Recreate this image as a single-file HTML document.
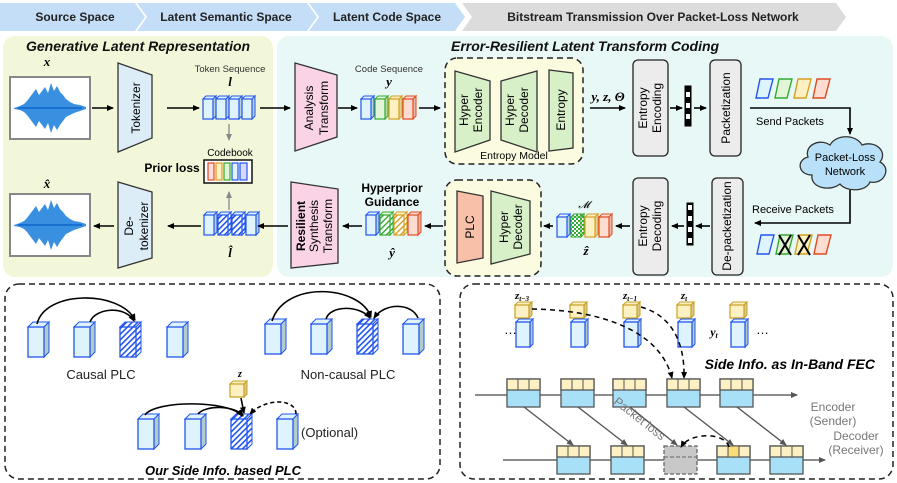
<!DOCTYPE html>
<html><head><meta charset="utf-8"><style>
html,body{margin:0;padding:0;background:#fff}
svg{display:block;font-family:"Liberation Sans",sans-serif}
</style></head><body>
<svg width="897" height="483" viewBox="0 0 897 483" xmlns="http://www.w3.org/2000/svg">
<defs>
<marker id="ar" markerWidth="8" markerHeight="8" refX="6" refY="3" orient="auto" markerUnits="userSpaceOnUse"><path d="M0,0 L7,3 L0,6 Z" fill="#000"/></marker>
<marker id="ag" markerWidth="8" markerHeight="8" refX="6" refY="3" orient="auto" markerUnits="userSpaceOnUse"><path d="M0,0 L7,3 L0,6 Z" fill="#555"/></marker>
<marker id="agr" markerWidth="8" markerHeight="8" refX="6" refY="3" orient="auto" markerUnits="userSpaceOnUse"><path d="M0,0 L7,3 L0,6 Z" fill="#888"/></marker>
<pattern id="hb" width="4" height="4" patternUnits="userSpaceOnUse" patternTransform="rotate(45)"><rect width="4" height="4" fill="#fff"/><rect width="1.6" height="4" fill="#2255ee"/></pattern>
<pattern id="hg" width="4" height="4" patternUnits="userSpaceOnUse" patternTransform="rotate(45)"><rect width="4" height="4" fill="#fff"/><rect width="1.4" height="4" fill="#3a3"/></pattern>
<pattern id="hy" width="4" height="4" patternUnits="userSpaceOnUse" patternTransform="rotate(45)"><rect width="4" height="4" fill="#fff"/><rect width="1.4" height="4" fill="#d4a020"/></pattern>
<pattern id="chk" width="4" height="4" patternUnits="userSpaceOnUse"><rect width="4" height="4" fill="#3a3"/><rect width="2" height="2" fill="#fff"/><rect x="2" y="2" width="2" height="2" fill="#fff"/></pattern>
<g id="tB"><path d="M0,3 L3,0 L13,0 L10,3Z" fill="#dff3fd" stroke="#2255ee" stroke-width="1"/><path d="M10,3 L13,0 L13,20 L10,23Z" fill="#b8d0d8" stroke="#2255ee" stroke-width="1"/><rect x="0" y="3" width="10" height="20" fill="#dff3fd" stroke="#2255ee" stroke-width="1.2"/></g>
<g id="tBh"><path d="M0,3 L3,0 L13,0 L10,3Z" fill="#dff3fd" stroke="#2255ee"/><path d="M10,3 L13,0 L13,20 L10,23Z" fill="url(#hb)" stroke="#2255ee"/><rect x="0" y="3" width="10" height="20" fill="url(#hb)" stroke="#2255ee" stroke-width="1.2"/></g>
<g id="tG"><path d="M0,3 L3,0 L13,0 L10,3Z" fill="#e2f5d6" stroke="#3a3"/><path d="M10,3 L13,0 L13,20 L10,23Z" fill="#b8d8a8" stroke="#3a3"/><rect x="0" y="3" width="10" height="20" fill="#e2f5d6" stroke="#3a3" stroke-width="1.2"/></g>
<g id="tGh"><path d="M0,3 L3,0 L13,0 L10,3Z" fill="#e2f5d6" stroke="#3a3"/><path d="M10,3 L13,0 L13,20 L10,23Z" fill="url(#hg)" stroke="#3a3"/><rect x="0" y="3" width="10" height="20" fill="url(#hg)" stroke="#3a3" stroke-width="1.2"/></g>
<g id="tY"><path d="M0,3 L3,0 L13,0 L10,3Z" fill="#fdf1c4" stroke="#d4a020"/><path d="M10,3 L13,0 L13,20 L10,23Z" fill="#e0d098" stroke="#d4a020"/><rect x="0" y="3" width="10" height="20" fill="#fdf1c4" stroke="#d4a020" stroke-width="1.2"/></g>
<g id="tYh"><path d="M0,3 L3,0 L13,0 L10,3Z" fill="#fdf1c4" stroke="#d4a020"/><path d="M10,3 L13,0 L13,20 L10,23Z" fill="url(#hy)" stroke="#d4a020"/><rect x="0" y="3" width="10" height="20" fill="url(#hy)" stroke="#d4a020" stroke-width="1.2"/></g>
<g id="tR"><path d="M0,3 L3,0 L13,0 L10,3Z" fill="#fddcd2" stroke="#e04a20"/><path d="M10,3 L13,0 L13,20 L10,23Z" fill="#e8b8a8" stroke="#e04a20"/><rect x="0" y="3" width="10" height="20" fill="#fddcd2" stroke="#e04a20" stroke-width="1.2"/></g>
<g id="LB"><path d="M0,5 L5,0 L21,0 L16,5Z" fill="#dff3fd" stroke="#2255ee"/><path d="M16,5 L21,0 L21,30 L16,35Z" fill="#b0cccc" stroke="#2255ee"/><rect x="0" y="5" width="16" height="30" fill="#dff3fd" stroke="#2255ee" stroke-width="1.3"/></g>
<g id="LBh"><path d="M0,5 L5,0 L21,0 L16,5Z" fill="url(#hb)" stroke="#2255ee"/><path d="M16,5 L21,0 L21,30 L16,35Z" fill="url(#hb)" stroke="#2255ee"/><rect x="0" y="5" width="16" height="30" fill="url(#hb)" stroke="#2255ee" stroke-width="1.3"/></g>
<g id="SY"><path d="M0,3 L3,0 L17,0 L14,3Z" fill="#fdf1c4" stroke="#c8a020"/><path d="M14,3 L17,0 L17,13 L14,16Z" fill="#d8c890" stroke="#c8a020"/><rect x="0" y="3" width="14" height="13" fill="#fdf1c4" stroke="#c8a020" stroke-width="1.2"/></g>
<g id="PK"><rect x="0" y="0" width="33" height="28" fill="#a8e0f8" stroke="#555" stroke-width="1.3"/><rect x="0" y="0" width="33" height="11" fill="#fdf1c4" stroke="#555" stroke-width="1.3"/><line x1="11" y1="0" x2="11" y2="11" stroke="#555"/><line x1="22" y1="0" x2="22" y2="11" stroke="#555"/></g>
<g id="WV"><rect x="0" y="0" width="80" height="62" fill="#fff" stroke="#888" stroke-width="2"/>
<path d="M4,31 L10,29 L14,27 L17,24 L20,20 L23,16 L26,12 L29,18 L32,14 L35,10 L38,16 L41,6 L44,14 L47,9 L50,15 L53,18 L56,22 L60,25 L64,27 L70,28 L76,30 L76,32 L70,34 L64,36 L60,38 L56,40 L53,44 L50,48 L47,53 L44,48 L41,56 L38,46 L35,52 L32,48 L29,44 L26,50 L23,46 L20,42 L17,38 L14,35 L10,33 L4,32Z" fill="#3a90e0"/>
<path d="M8,31 H72" stroke="#1a70d0" stroke-width="2"/></g>
</defs>

<path d="M0,3 L135,3 L145,17 L135,31 L0,31Z" fill="#c5def8"/>
<path d="M137,3 L307,3 L317,17 L307,31 L137,31 L147,17Z" fill="#c5def8"/>
<path d="M309,3 L455,3 L465,17 L455,31 L309,31 L319,17Z" fill="#c5def8"/>
<path d="M462,3 L836,3 L846,17 L836,31 L462,31 L472,17Z" fill="#dcdcdc"/>
<g font-weight="bold" font-size="12" fill="#222" text-anchor="middle">
<text x="75" y="21">Source Space</text><text x="226" y="21">Latent Semantic Space</text><text x="387" y="21">Latent Code Space</text><text x="653" y="21">Bitstream Transmission Over Packet-Loss Network</text></g>

<rect x="3" y="36" width="270" height="241" rx="12" fill="#f2f7d9"/>
<rect x="277" y="36" width="616" height="241" rx="12" fill="#e8f8f6"/>
<text x="26" y="51" font-size="14" font-weight="bold" font-style="italic" fill="#111">Generative Latent Representation</text>
<text x="451" y="51" font-size="14" font-weight="bold" font-style="italic" fill="#111">Error-Resilient Latent Transform Coding</text>

<g font-family="Liberation Serif,serif" font-weight="bold" font-style="italic" font-size="13" text-anchor="middle">
<text x="47" y="66">x</text><text x="47" y="188">x̂</text><text x="230" y="86">l</text><text x="230" y="257">l̂</text><text x="389" y="86">y</text><text x="392" y="257">ŷ</text><text x="586" y="255">ẑ</text><text x="608" y="101">y, z, Θ</text><text x="714" y="336" font-size="12">y<tspan font-size="8" dy="2">t</tspan></text></g>
<use href="#WV" x="10" y="77"/><use href="#WV" x="10" y="194"/>

<path d="M118,63 L152,75 L152,138 L118,152Z" fill="#dcedf8" stroke="#333" stroke-width="1.3"/>
<text transform="translate(140,108) rotate(-90)" font-size="12" text-anchor="middle">Tokenizer</text>
<path d="M118,182 L152,192 L152,258 L118,268Z" fill="#dcedf8" stroke="#333" stroke-width="1.3"/>
<text transform="translate(133,226) rotate(-90)" font-size="12" text-anchor="middle">De-</text>
<text transform="translate(148,226) rotate(-90)" font-size="12" text-anchor="middle">tokenizer</text>
<path d="M295,63 L337,75 L337,137 L295,151Z" fill="#fad4e6" stroke="#333" stroke-width="1.3"/>
<text transform="translate(313,108) rotate(-90)" font-size="12" text-anchor="middle">Analysis</text>
<text transform="translate(328,108) rotate(-90)" font-size="12" text-anchor="middle">Transform</text>
<path d="M291,182 L338,189 L338,263 L291,268Z" fill="#fad4e6" stroke="#333" stroke-width="1.3"/>
<text transform="translate(305,226) rotate(-90)" font-size="12" text-anchor="middle"><tspan font-weight="bold">Resilient</tspan></text>
<text transform="translate(318,226) rotate(-90)" font-size="12" text-anchor="middle">Synthesis</text>
<text transform="translate(332,226) rotate(-90)" font-size="12" text-anchor="middle">Transform</text>

<text x="230" y="72" font-size="9.5" text-anchor="middle" fill="#333">Token Sequence</text>
<use href="#tB" x="203" y="96"/><use href="#tB" x="216" y="96"/><use href="#tB" x="229" y="96"/><use href="#tB" x="242" y="96"/>
<use href="#tB" x="204" y="212"/><use href="#tBh" x="218" y="212"/><use href="#tBh" x="232" y="212"/><use href="#tB" x="246" y="212"/>
<line x1="229" y1="124" x2="229" y2="140" stroke="#888" stroke-width="1.3" marker-end="url(#agr)"/>
<line x1="229" y1="210" x2="229" y2="192" stroke="#888" stroke-width="1.3" marker-end="url(#agr)"/>
<text x="230" y="156" font-size="10" text-anchor="middle">Codebook</text>
<text x="172" y="172" font-size="12" font-weight="bold" text-anchor="middle">Prior loss</text>
<rect x="204" y="160" width="48" height="23" fill="#fff" stroke="#111" stroke-width="1.5"/>
<g stroke-width="1.2"><rect x="208" y="163" width="6" height="17" fill="#fdd" stroke="#e04a20"/><rect x="216" y="163" width="6" height="17" fill="#fdf1c4" stroke="#d4a020"/><rect x="224" y="163" width="6" height="17" fill="#e2f5d6" stroke="#3a3"/><rect x="232" y="163" width="6" height="17" fill="#dff3fd" stroke="#2255ee"/><rect x="240" y="163" width="7" height="17" fill="#d8d8ff" stroke="#2255ee"/></g>

<g stroke="#000" stroke-width="1.6" fill="none" marker-end="url(#ar)">
<line x1="92" y1="108" x2="113" y2="108"/><line x1="167" y1="108" x2="199" y2="108"/><line x1="260" y1="108" x2="290" y2="108"/>
<line x1="338" y1="108" x2="357" y2="108"/><line x1="419" y1="108" x2="440" y2="108"/>
<line x1="590" y1="108" x2="625" y2="108"/><line x1="670" y1="108" x2="682" y2="108"/><line x1="694" y1="108" x2="706" y2="108"/>
<path d="M750,108 L850,108 L850,134"/>
<path d="M850,190 L850,223 L755,223"/>
<line x1="710" y1="226" x2="696" y2="226"/><line x1="684" y1="226" x2="672" y2="226"/><line x1="630" y1="226" x2="616" y2="226"/>
<line x1="553" y1="226" x2="544" y2="226"/><line x1="443" y1="226" x2="425" y2="226"/><line x1="362" y1="226" x2="343" y2="226"/>
<line x1="288" y1="226" x2="258" y2="226"/><line x1="201" y1="226" x2="168" y2="226"/><line x1="114" y1="226" x2="94" y2="226"/>
</g>

<text x="389" y="72" font-size="9.5" text-anchor="middle" fill="#333">Code Sequence</text>
<use href="#tB" x="361" y="96"/><use href="#tG" x="375" y="96"/><use href="#tY" x="389" y="96"/><use href="#tR" x="403" y="96"/>
<text x="392" y="192" font-size="12" font-weight="bold" text-anchor="middle">Hyperprior</text>
<text x="392" y="206" font-size="12" font-weight="bold" text-anchor="middle">Guidance</text>
<use href="#tB" x="366" y="212"/><use href="#tGh" x="380" y="212"/><use href="#tYh" x="394" y="212"/><use href="#tR" x="408" y="212"/>

<rect x="445" y="58" width="138" height="106" rx="12" fill="#fbfbe0" stroke="#222" stroke-width="1.5" stroke-dasharray="6,4"/>
<path d="M455,71 L490,81 L490,140 L455,152Z" fill="#d8f0c8" stroke="#333" stroke-width="1.3"/>
<path d="M501,81 L537,71 L537,152 L501,140Z" fill="#d8f0c8" stroke="#333" stroke-width="1.3"/>
<path d="M549,70 L573,73 L573,148 L549,151Z" fill="#d8f0c8" stroke="#333" stroke-width="1.3"/>
<g font-size="12" text-anchor="middle">
<text transform="translate(468,110) rotate(-90)">Hyper</text><text transform="translate(482,110) rotate(-90)">Encoder</text>
<text transform="translate(514,110) rotate(-90)">Hyper</text><text transform="translate(528,110) rotate(-90)">Decoder</text>
<text transform="translate(565,110) rotate(-90)">Entropy</text>
<text x="514" y="159" font-size="10.5">Entropy Model</text></g>

<rect x="633" y="60" width="35" height="96" rx="5" fill="#ececec" stroke="#222" stroke-width="1.3"/>
<rect x="710" y="60" width="31" height="96" rx="5" fill="#ececec" stroke="#222" stroke-width="1.3"/>
<rect x="633" y="178" width="35" height="97" rx="5" fill="#ececec" stroke="#222" stroke-width="1.3"/>
<rect x="712" y="178" width="31" height="97" rx="5" fill="#ececec" stroke="#222" stroke-width="1.3"/>
<g font-size="12" text-anchor="middle">
<text transform="translate(647,108) rotate(-90)">Entropy</text><text transform="translate(661,108) rotate(-90)">Encoding</text>
<text transform="translate(730,108) rotate(-90)">Packetization</text>
<text transform="translate(647,226) rotate(-90)">Entropy</text><text transform="translate(661,226) rotate(-90)">Decoding</text>
<text transform="translate(731,226) rotate(-90)">De-packetization</text></g>
<g stroke="#000"><rect x="685" y="86" width="6" height="40" fill="#000"/><rect x="686" y="92" width="4" height="5" fill="#fff" stroke="none"/><rect x="686" y="103" width="4" height="5" fill="#fff" stroke="none"/><rect x="686" y="114" width="4" height="5" fill="#fff" stroke="none"/>
<rect x="687" y="203" width="6" height="42" fill="#000"/><rect x="688" y="205" width="4" height="5" fill="#fff" stroke="none"/><rect x="688" y="216" width="4" height="5" fill="#fff" stroke="none"/><rect x="688" y="227" width="4" height="5" fill="#fff" stroke="none"/><rect x="688" y="238" width="4" height="5" fill="#fff" stroke="none"/></g>

<g stroke-width="1.4">
<path d="M760,79 L773,79 L768,98 L756,98Z" fill="#dff3fd" stroke="#2255ee"/>
<path d="M779,79 L792,79 L787,98 L775,98Z" fill="#e2f5d6" stroke="#3a3"/>
<path d="M798,79 L811,79 L806,98 L794,98Z" fill="#fdf1c4" stroke="#d4a020"/>
<path d="M817,79 L830,79 L825,98 L813,98Z" fill="#fddcd2" stroke="#e04a20"/>
<path d="M761,235 L774,235 L769,254 L757,254Z" fill="#dff3fd" stroke="#2255ee"/>
<path d="M780,235 L793,235 L788,254 L776,254Z" fill="#e2f5d6" stroke="#3a3"/>
<path d="M799,235 L812,235 L807,254 L795,254Z" fill="#fdf1c4" stroke="#d4a020"/>
<path d="M818,235 L831,235 L826,254 L814,254Z" fill="#fddcd2" stroke="#e04a20"/></g>
<g stroke="#000" stroke-width="2"><line x1="779" y1="235" x2="791" y2="255"/><line x1="791" y1="235" x2="779" y2="255"/><line x1="798" y1="235" x2="810" y2="255"/><line x1="810" y1="235" x2="798" y2="255"/></g>
<text x="756" y="125" font-size="11">Send Packets</text>
<text x="752" y="213" font-size="11">Receive Packets</text>
<path d="M812,175 C798,175 796,160 808,157 C804,145 820,138 830,145 C836,134 856,134 862,145 C876,140 888,152 880,162 C892,168 884,185 870,182 C866,192 846,192 840,184 C830,192 810,188 812,175Z" fill="#b8e0f8" stroke="#333" stroke-width="1.3"/>
<text x="845" y="161" font-size="11" text-anchor="middle">Packet-Loss</text>
<text x="845" y="175" font-size="11" text-anchor="middle">Network</text>

<rect x="445" y="180" width="96" height="96" rx="12" fill="#fbfbe0" stroke="#222" stroke-width="1.5" stroke-dasharray="6,4"/>
<path d="M457,191 L483,196 L483,258 L457,263Z" fill="#f8c0a8" stroke="#333" stroke-width="1.3"/>
<path d="M491,191 L530,201 L530,254 L491,264Z" fill="#d8f0c8" stroke="#333" stroke-width="1.3"/>
<g font-size="12" text-anchor="middle"><text transform="translate(474,227) rotate(-90)">PLC</text>
<text transform="translate(508,227) rotate(-90)">Hyper</text><text transform="translate(522,227) rotate(-90)">Decoder</text></g>
<text x="584" y="208" font-family="Liberation Serif,serif" font-style="italic" font-size="10" text-anchor="middle">𝓜</text>
<use href="#tB" x="557" y="214"/><g><path d="M571,217 L574,214 L584,214 L581,217Z" fill="url(#chk)" stroke="#3a3"/><path d="M581,217 L584,214 L584,234 L581,237Z" fill="url(#chk)" stroke="#3a3"/><rect x="571" y="217" width="10" height="20" fill="url(#chk)" stroke="#3a3"/></g><use href="#tY" x="585" y="214"/><use href="#tR" x="599" y="214"/>

<rect x="5" y="284" width="435" height="195" rx="14" fill="none" stroke="#222" stroke-width="1.5" stroke-dasharray="6,4"/>
<use href="#LB" x="28" y="322"/><use href="#LB" x="74" y="322"/><use href="#LBh" x="120" y="322"/><use href="#LB" x="167" y="322"/>
<use href="#LB" x="265" y="319"/><use href="#LB" x="311" y="319"/><use href="#LBh" x="357" y="319"/><use href="#LB" x="403" y="319"/>
<use href="#LB" x="138" y="414"/><use href="#LB" x="185" y="414"/><use href="#LBh" x="231" y="414"/><use href="#LB" x="277" y="414"/>
<use href="#SY" x="230" y="381"/>
<g stroke="#000" stroke-width="1.6" fill="none" marker-end="url(#ar)">
<path d="M37,324 C45,290 120,290 135,320"/><path d="M90,322 C95,308 125,305 134,321"/>
<path d="M272,321 C285,280 360,285 371,317"/><path d="M326,319 C330,305 360,305 370,318"/><path d="M418,318 C412,303 385,302 374,318"/>
<path d="M145,415 C155,400 230,400 242,416"/><path d="M198,414 C205,405 235,405 243,416"/><path d="M241,398 L244,413"/>
<path d="M296,414 C296,398 265,398 250,414" stroke-dasharray="4,3"/></g>
<g font-size="13" text-anchor="middle" fill="#222"><text x="101" y="379">Causal PLC</text><text x="348" y="379">Non-causal PLC</text></g>
<text x="301" y="437" font-size="13" fill="#222">(Optional)</text>
<text x="240" y="377" font-family="Liberation Serif,serif" font-weight="bold" font-style="italic" font-size="10" text-anchor="middle">z</text>
<text x="223" y="475" font-size="13" font-weight="bold" font-style="italic" text-anchor="middle">Our Side Info. based PLC</text>

<rect x="460" y="284" width="433" height="195" rx="14" fill="none" stroke="#222" stroke-width="1.5" stroke-dasharray="6,4"/>
<g font-family="Liberation Serif,serif" font-weight="bold" font-style="italic" font-size="11" text-anchor="middle">
<text x="522" y="299">z<tspan font-size="7" dy="2">t−3</tspan></text><text x="630" y="299">z<tspan font-size="7" dy="2">t−1</tspan></text><text x="684" y="299">z<tspan font-size="7" dy="2">t</tspan></text></g>
<text x="504" y="334" font-size="13">…</text><text x="756" y="334" font-size="13">…</text>
<use href="#SY" x="515" y="302"/><use href="#SY" x="570" y="302"/><use href="#SY" x="623" y="302"/><use href="#SY" x="677" y="302"/><use href="#SY" x="730" y="302"/>
<g><path d="M516,322 L519,319 L533,319 L530,322Z" fill="#dff3fd" stroke="#2255ee"/><path d="M530,322 L533,319 L533,344 L530,347Z" fill="#b0cccc" stroke="#2255ee"/><rect x="516" y="322" width="14" height="25" fill="#dff3fd" stroke="#2255ee" stroke-width="1.3"/></g>
<g><path d="M571,322 L574,319 L588,319 L585,322Z" fill="#dff3fd" stroke="#2255ee"/><path d="M585,322 L588,319 L588,344 L585,347Z" fill="#b0cccc" stroke="#2255ee"/><rect x="571" y="322" width="14" height="25" fill="#dff3fd" stroke="#2255ee" stroke-width="1.3"/></g>
<g><path d="M624,322 L627,319 L641,319 L638,322Z" fill="#dff3fd" stroke="#2255ee"/><path d="M638,322 L641,319 L641,344 L638,347Z" fill="#b0cccc" stroke="#2255ee"/><rect x="624" y="322" width="14" height="25" fill="#dff3fd" stroke="#2255ee" stroke-width="1.3"/></g>
<g><path d="M678,322 L681,319 L695,319 L692,322Z" fill="#dff3fd" stroke="#2255ee"/><path d="M692,322 L695,319 L695,344 L692,347Z" fill="#b0cccc" stroke="#2255ee"/><rect x="678" y="322" width="14" height="25" fill="#dff3fd" stroke="#2255ee" stroke-width="1.3"/></g>
<g><path d="M731,322 L734,319 L748,319 L745,322Z" fill="#dff3fd" stroke="#2255ee"/><path d="M745,322 L748,319 L748,344 L745,347Z" fill="#b0cccc" stroke="#2255ee"/><rect x="731" y="322" width="14" height="25" fill="#dff3fd" stroke="#2255ee" stroke-width="1.3"/></g>
<g stroke="#000" stroke-width="1.5" fill="none" stroke-dasharray="5,4" marker-end="url(#ar)">
<path d="M532,309 C600,310 660,330 672,378"/><path d="M641,307 C670,315 685,340 684,378"/></g>
<text x="875" y="369" font-size="14" font-weight="bold" font-style="italic" text-anchor="end">Side Info. as In-Band FEC</text>
<line x1="475" y1="395" x2="797" y2="395" stroke="#666" stroke-width="1.5" marker-end="url(#ag)"/>
<line x1="503" y1="460" x2="825" y2="460" stroke="#666" stroke-width="1.5" marker-end="url(#ag)"/>
<use href="#PK" x="507" y="379"/><use href="#PK" x="561" y="379"/><use href="#PK" x="613" y="379"/><use href="#PK" x="667" y="379"/><use href="#PK" x="720" y="379"/>
<use href="#PK" x="557" y="446"/><use href="#PK" x="611" y="446"/><use href="#PK" x="717" y="446"/><use href="#PK" x="770" y="446"/>
<rect x="728" y="446" width="11" height="11" fill="#f8dc78" stroke="#555"/>
<rect x="664" y="446" width="33" height="28" fill="#c8c8c8" stroke="#666" stroke-width="1.3" stroke-dasharray="4,2"/>
<line x1="664" y1="457" x2="697" y2="457" stroke="#666" stroke-dasharray="4,2"/>
<g stroke="#555" stroke-width="1.4" marker-end="url(#ag)">
<line x1="524" y1="407" x2="573" y2="445"/><line x1="578" y1="407" x2="627" y2="445"/><line x1="630" y1="407" x2="677" y2="445"/><line x1="684" y1="407" x2="733" y2="445"/><line x1="737" y1="407" x2="786" y2="445"/></g>
<path d="M729,447 C725,432 690,432 681,447" fill="none" stroke="#000" stroke-width="1.5" stroke-dasharray="5,4" marker-end="url(#ar)"/>
<text transform="translate(613,403) rotate(38)" font-size="12" fill="#777">Packet loss</text>
<g font-size="12" fill="#777" text-anchor="middle"><text x="833" y="411">Encoder</text><text x="833" y="425">(Sender)</text><text x="856" y="440">Decoder</text><text x="856" y="454">(Receiver)</text></g>
</svg>
</body></html>
